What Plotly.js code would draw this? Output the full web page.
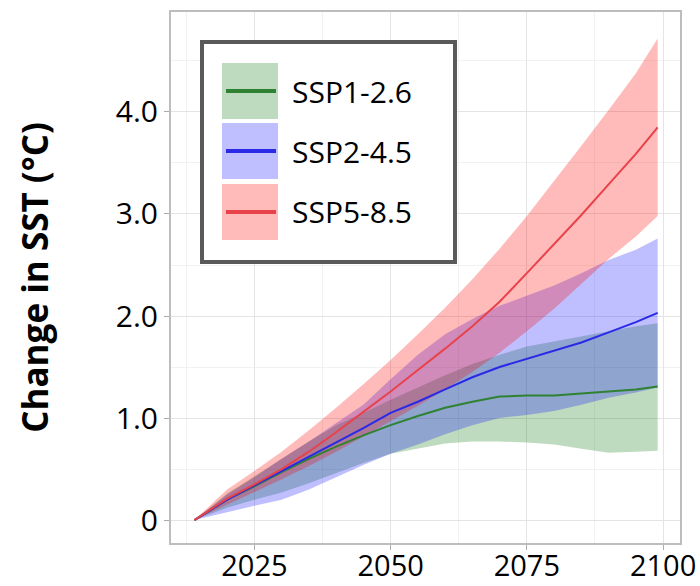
<!DOCTYPE html>
<html>
<head>
<meta charset="utf-8">
<script src="https://cdn.plot.ly/plotly-3.0.1.min.js"></script>
<style>html,body{margin:0;padding:0;background:#fff}#chart{width:700px;height:586px}</style>
</head>
<body>
<div id="chart"></div>
<script>
// ---- data ----
const years = [2014, 2020, 2025, 2030, 2035, 2040, 2045, 2050, 2055, 2060, 2065, 2070, 2075, 2080, 2085, 2090, 2095, 2099];

const ssp126Mean  = [0, 0.20, 0.33, 0.47, 0.60, 0.72, 0.83, 0.93, 1.02, 1.10, 1.16, 1.21, 1.22, 1.22, 1.24, 1.26, 1.28, 1.31];
const ssp126Lower = [0, 0.12, 0.20, 0.27, 0.36, 0.46, 0.56, 0.65, 0.70, 0.75, 0.77, 0.77, 0.76, 0.74, 0.70, 0.66, 0.67, 0.68];
const ssp126Upper = [0, 0.26, 0.43, 0.60, 0.77, 0.93, 1.05, 1.18, 1.30, 1.42, 1.53, 1.62, 1.70, 1.75, 1.80, 1.85, 1.90, 1.93];

const ssp245Mean  = [0, 0.20, 0.34, 0.48, 0.62, 0.76, 0.90, 1.05, 1.16, 1.28, 1.40, 1.50, 1.58, 1.66, 1.74, 1.84, 1.94, 2.03];
const ssp245Lower = [0, 0.08, 0.14, 0.20, 0.30, 0.42, 0.54, 0.65, 0.74, 0.84, 0.93, 1.00, 1.03, 1.07, 1.13, 1.20, 1.25, 1.30];
const ssp245Upper = [0, 0.25, 0.42, 0.60, 0.77, 0.95, 1.13, 1.38, 1.62, 1.82, 1.97, 2.10, 2.20, 2.30, 2.42, 2.55, 2.65, 2.76];

const ssp585Mean  = [0, 0.21, 0.35, 0.50, 0.67, 0.86, 1.06, 1.26, 1.47, 1.68, 1.90, 2.14, 2.42, 2.70, 2.99, 3.29, 3.59, 3.85];
const ssp585Lower = [0, 0.15, 0.27, 0.40, 0.53, 0.67, 0.82, 0.97, 1.12, 1.28, 1.45, 1.64, 1.85, 2.07, 2.32, 2.56, 2.78, 2.98];
const ssp585Upper = [0, 0.30, 0.48, 0.67, 0.88, 1.10, 1.33, 1.57, 1.82, 2.08, 2.36, 2.66, 2.98, 3.32, 3.67, 4.02, 4.38, 4.72];

const seriesNames = ['SSP1-2.6', 'SSP2-4.5', 'SSP5-8.5'];
const yTickVals = [0, 1, 2, 3, 4];
const yTickText = ['0', '1.0', '2.0', '3.0', '4.0'];
const xTickVals = [2025, 2050, 2075, 2100];

// ---- styling ----
const lineColors = ['#2f8232', '#2a2ae6', '#e8424a'];
const bandColors = ['rgba(0,110,0,0.25)', 'rgba(0,0,255,0.25)', 'rgba(255,0,0,0.27)'];
const FONT = 'Open Sans, sans-serif';

const means = [ssp126Mean, ssp245Mean, ssp585Mean];
const lowers = [ssp126Lower, ssp245Lower, ssp585Lower];
const uppers = [ssp126Upper, ssp245Upper, ssp585Upper];

const traces = [];
for (let i = 0; i < 3; i++) {
  traces.push({x: years, y: lowers[i], type: 'scatter', mode: 'lines', line: {width: 0, color: bandColors[i]}, showlegend: false, hoverinfo: 'skip'});
  traces.push({x: years, y: uppers[i], type: 'scatter', mode: 'lines', fill: 'tonexty', fillcolor: bandColors[i], line: {width: 0, color: bandColors[i]}, showlegend: false, hoverinfo: 'skip'});
}
for (let i = 0; i < 3; i++) {
  traces.push({x: years, y: means[i], type: 'scatter', mode: 'lines', name: seriesNames[i], line: {width: 2, color: lineColors[i]}, showlegend: false});
}

// plot area in pixels
const W = 700, H = 586;
const M = {l: 171, r: 20, t: 12, b: 43};
const pw = W - M.l - M.r, ph = H - M.t - M.b;
const px = v => (v - M.l) / pw;
const py = v => 1 - (v - M.t) / ph;

// custom legend (box, swatches, labels)
const shapes = [];
const annotations = [];
shapes.push({type: 'rect', xref: 'paper', yref: 'paper', x0: px(202), x1: px(455), y0: py(262), y1: py(42),
  fillcolor: '#ffffff', line: {color: '#5a5a5a', width: 4}, layer: 'above'});
const rowCenters = [91, 151, 212];
for (let i = 0; i < 3; i++) {
  const c = rowCenters[i];
  shapes.push({type: 'rect', xref: 'paper', yref: 'paper', x0: px(222), x1: px(278), y0: py(c + 28), y1: py(c - 28),
    fillcolor: bandColors[i], line: {width: 0}, layer: 'above'});
  shapes.push({type: 'line', xref: 'paper', yref: 'paper', x0: px(226), x1: px(276), y0: py(c), y1: py(c),
    line: {color: lineColors[i], width: 4}, layer: 'above'});
  annotations.push({xref: 'paper', yref: 'paper', x: px(290), y: py(c), xanchor: 'left', yanchor: 'middle',
    text: seriesNames[i], showarrow: false, font: {family: FONT, size: 30, color: '#000'}});
}

const layout = {
  width: W, height: H,
  margin: M,
  paper_bgcolor: '#fff', plot_bgcolor: '#fff',
  showlegend: false,
  font: {family: FONT, color: '#000'},
  xaxis: {
    range: [2009.7, 2103.1],
    tickvals: xTickVals, ticktext: xTickVals.map(String),
    tickfont: {family: FONT, size: 29, color: '#000'},
    ticks: 'outside', ticklen: 5, tickcolor: '#aaa', tickwidth: 1,
    ticklabelstandoff: -9,
    showgrid: true, gridcolor: '#e4e4e4', gridwidth: 1,
    minor: {dtick: 12.5, tick0: 2012.5, showgrid: true, gridcolor: '#f2f2f2', ticks: ''},
    showline: true, mirror: true, linecolor: '#bdbdbd', linewidth: 2,
    zeroline: false, fixedrange: true
  },
  yaxis: {
    range: [-0.225, 4.98],
    tickvals: yTickVals, ticktext: yTickText,
    tickfont: {family: FONT, size: 30, color: '#000'},
    ticks: 'outside', ticklen: 5, tickcolor: '#aaa', tickwidth: 1,
    showgrid: true, gridcolor: '#e4e4e4', gridwidth: 1,
    minor: {dtick: 0.5, tick0: 0.5, showgrid: true, gridcolor: '#f2f2f2', ticks: ''},
    showline: true, mirror: true, linecolor: '#bdbdbd', linewidth: 2,
    zeroline: false, fixedrange: true,
    title: {text: 'Change in SST (°C)', font: {family: FONT, size: 35, color: '#000', weight: 'bold'}, standoff: 57}
  },
  shapes: shapes,
  annotations: annotations
};

Plotly.newPlot('chart', traces, layout, {staticPlot: true, displayModeBar: false});
</script>
</body>
</html>
